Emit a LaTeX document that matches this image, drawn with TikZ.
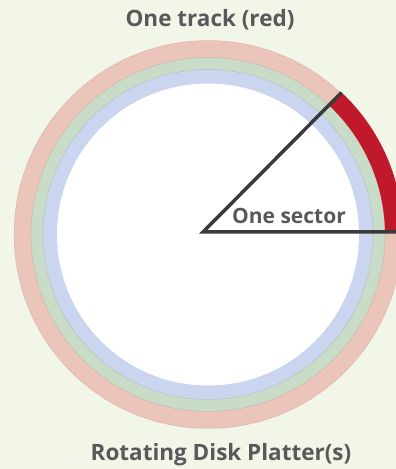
\documentclass[tikz,border=0pt]{standalone}
\usepackage{fontspec}
\setmainfont{Open Sans}
\definecolor{bgc}{HTML}{F2F6E8}
\definecolor{ringpink}{HTML}{EBC5BA}
\definecolor{ringgreen}{HTML}{C9DCC8}
\definecolor{ringblue}{HTML}{CAD5EF}
\definecolor{trackred}{HTML}{C0192C}
\definecolor{linegray}{HTML}{3A3A3A}
\definecolor{textgray}{HTML}{595959}
\begin{document}
\begin{tikzpicture}[x=1pt,y=1pt,
  lbl/.style={font=\bfseries\fontsize{22.5}{26}\selectfont, text=textgray, inner sep=0pt},
  sectorline/.style={draw=linegray, line width=3.5pt, line join=miter}]
\fill[bgc] (0,0) rectangle (396,469);
\useasboundingbox (0,0) rectangle (396,469);
\clip (0,0) rectangle (396,469);
\begin{scope}[shift={(208,234.5)}]
  \fill[ringpink] (0,0) circle (194);
  \draw[ringpink!80!red!70!black, line width=0.4pt, opacity=0.3] (0,0) circle (194);
  \fill[ringgreen] (0,0) circle (177);
  \draw[ringpink!70!black, line width=0.5pt, opacity=0.35] (0,0) circle (177);
  \fill[ringblue] (0,0) circle (165);
  \draw[ringgreen!70!black, line width=0.5pt, opacity=0.35] (0,0) circle (165);
  \fill[white] (0,0) circle (151);
  \fill[trackred] (0.7:177) -- (0.7:195) arc[start angle=0.7, end angle=46.8, radius=195]
     -- (46.8:177) arc[start angle=46.8, end angle=0.7, radius=177] -- cycle;
\end{scope}
\coordinate (v) at (203,237);
\coordinate (e1) at (341.5,376.5);
\coordinate (e2) at (400,237);
\draw[sectorline] (e1) -- (v) -- (e2);
\node[lbl] (track) at (210,449) {One track (red)};
\node[lbl, font=\bfseries\fontsize{21}{24}\selectfont] (sector) at (289,253) {One sector};
\node[lbl] (platter) at (221,14) {Rotating Disk Platter(s)};
\end{tikzpicture}
\end{document}
